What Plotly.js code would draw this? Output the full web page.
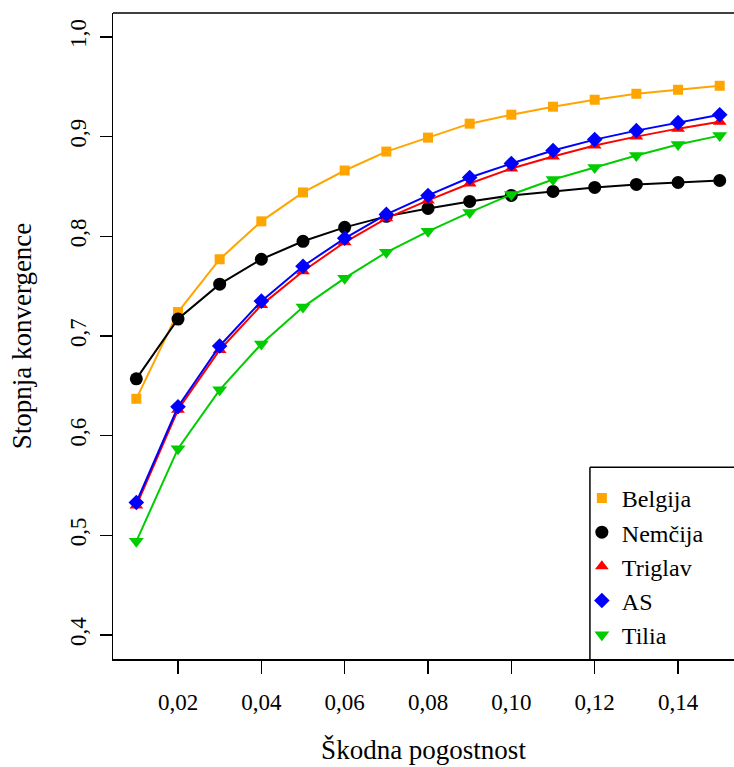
<!DOCTYPE html>
<html>
<head>
<meta charset="utf-8">
<script src="https://cdn.plot.ly/plotly-3.0.1.min.js"></script>
<style>
html,body{margin:0;padding:0;overflow:hidden;background:#fff;}
#chart{width:734px;height:767px;}
</style>
</head>
<body>
<div id="chart"></div>
<script>
const frequency = [0.01,0.02,0.03,0.04,0.05,0.06,0.07,0.08,0.09,0.10,0.11,0.12,0.13,0.14,0.15];
const belgija = [0.637,0.724,0.777,0.815,0.844,0.866,0.885,0.899,0.913,0.922,0.930,0.937,0.943,0.947,0.951];
const nemcija = [0.657,0.717,0.752,0.777,0.795,0.809,0.820,0.828,0.835,0.841,0.845,0.849,0.852,0.854,0.856];
const triglav = [0.530,0.626,0.686,0.731,0.765,0.794,0.818,0.836,0.853,0.868,0.880,0.891,0.900,0.908,0.915];
const as_ = [0.533,0.629,0.690,0.735,0.770,0.798,0.822,0.841,0.859,0.873,0.886,0.897,0.906,0.914,0.922];
const tilia = [0.494,0.587,0.646,0.692,0.729,0.758,0.784,0.805,0.824,0.842,0.857,0.869,0.881,0.892,0.901];

const seriesNames = ["Belgija","Nemčija","Triglav","AS","Tilia"];
const seriesValues = [belgija, nemcija, triglav, as_, tilia];
const colors = ["#FFA500","#000000","#FF0000","#0000FF","#00CD00"];
const symbols = ["square","circle","triangle-up","diamond","triangle-down"];
const sizes = [10,13,12,12,13];

const xTickVals = [0.02,0.04,0.06,0.08,0.10,0.12,0.14];
const xTickText = ["0,02","0,04","0,06","0,08","0,10","0,12","0,14"];
const yTickVals = [0.4,0.5,0.6,0.7,0.8,0.9,1.0];
const yTickText = ["0,4","0,5","0,6","0,7","0,8","0,9","1,0"];

const traces = [];
seriesNames.forEach((name,i)=>{
  traces.push({x:frequency,y:seriesValues[i],type:'scatter',mode:'lines',
    line:{color:colors[i],width:2},showlegend:false,hoverinfo:'skip',legendgroup:name});
  traces.push({x:frequency,y:seriesValues[i],type:'scatter',mode:'markers',name:name,
    marker:{color:colors[i],symbol:symbols[i],size:sizes[i]},legendgroup:name});
});

const font = "Liberation Serif";
const layout = {
  width:734,height:767,
  margin:{l:113,r:0,t:13,b:108},
  paper_bgcolor:'#fff',plot_bgcolor:'#fff',
  font:{family:font,color:'#000'},
  showlegend:true,
  xaxis:{range:[0.0044,0.15343],tickvals:xTickVals,ticktext:xTickText,
    ticks:'outside',ticklen:13,tickwidth:1.5,tickcolor:'#000',
    showline:true,linecolor:'#000',linewidth:1.5,mirror:false,showgrid:false,zeroline:false,
    tickfont:{size:23,family:font},ticklabelstandoff:9,
    title:{text:'Škodna pogostnost',font:{size:27,family:font},standoff:26}},
  yaxis:{range:[0.376,1.024],tickvals:yTickVals,ticktext:yTickText,
    ticks:'outside',ticklen:12,tickwidth:1.5,tickcolor:'#000',tickangle:-90,
    showline:true,linecolor:'#000',linewidth:1.5,mirror:false,showgrid:false,zeroline:false,
    tickfont:{size:23,family:font},ticklabelstandoff:4,
    title:{text:'Stopnja konvergence',font:{size:27,family:font},standoff:27}},
  shapes:[
    {type:'line',xref:'paper',yref:'paper',x0:0,x1:1.2,y0:1,y1:1,line:{color:'#000',width:1.5}},
    {type:'line',xref:'paper',yref:'paper',x0:0.768,x1:1.2,y0:0.297,y1:0.297,line:{color:'#000',width:1.5},layer:'above'},
    {type:'line',xref:'paper',yref:'paper',x0:0.768,x1:0.768,y0:0,y1:0.297,line:{color:'#000',width:1.5},layer:'above'}
  ],
  legend:{x:0.755,y:0.2835,xanchor:'left',yanchor:'top',bgcolor:'rgba(255,255,255,0)',
    borderwidth:0,font:{size:24,family:font},
    tracegroupgap:0,traceorder:'normal'}
};
Plotly.newPlot('chart',traces,layout,{displayModeBar:false,staticPlot:true});
</script>
</body>
</html>
